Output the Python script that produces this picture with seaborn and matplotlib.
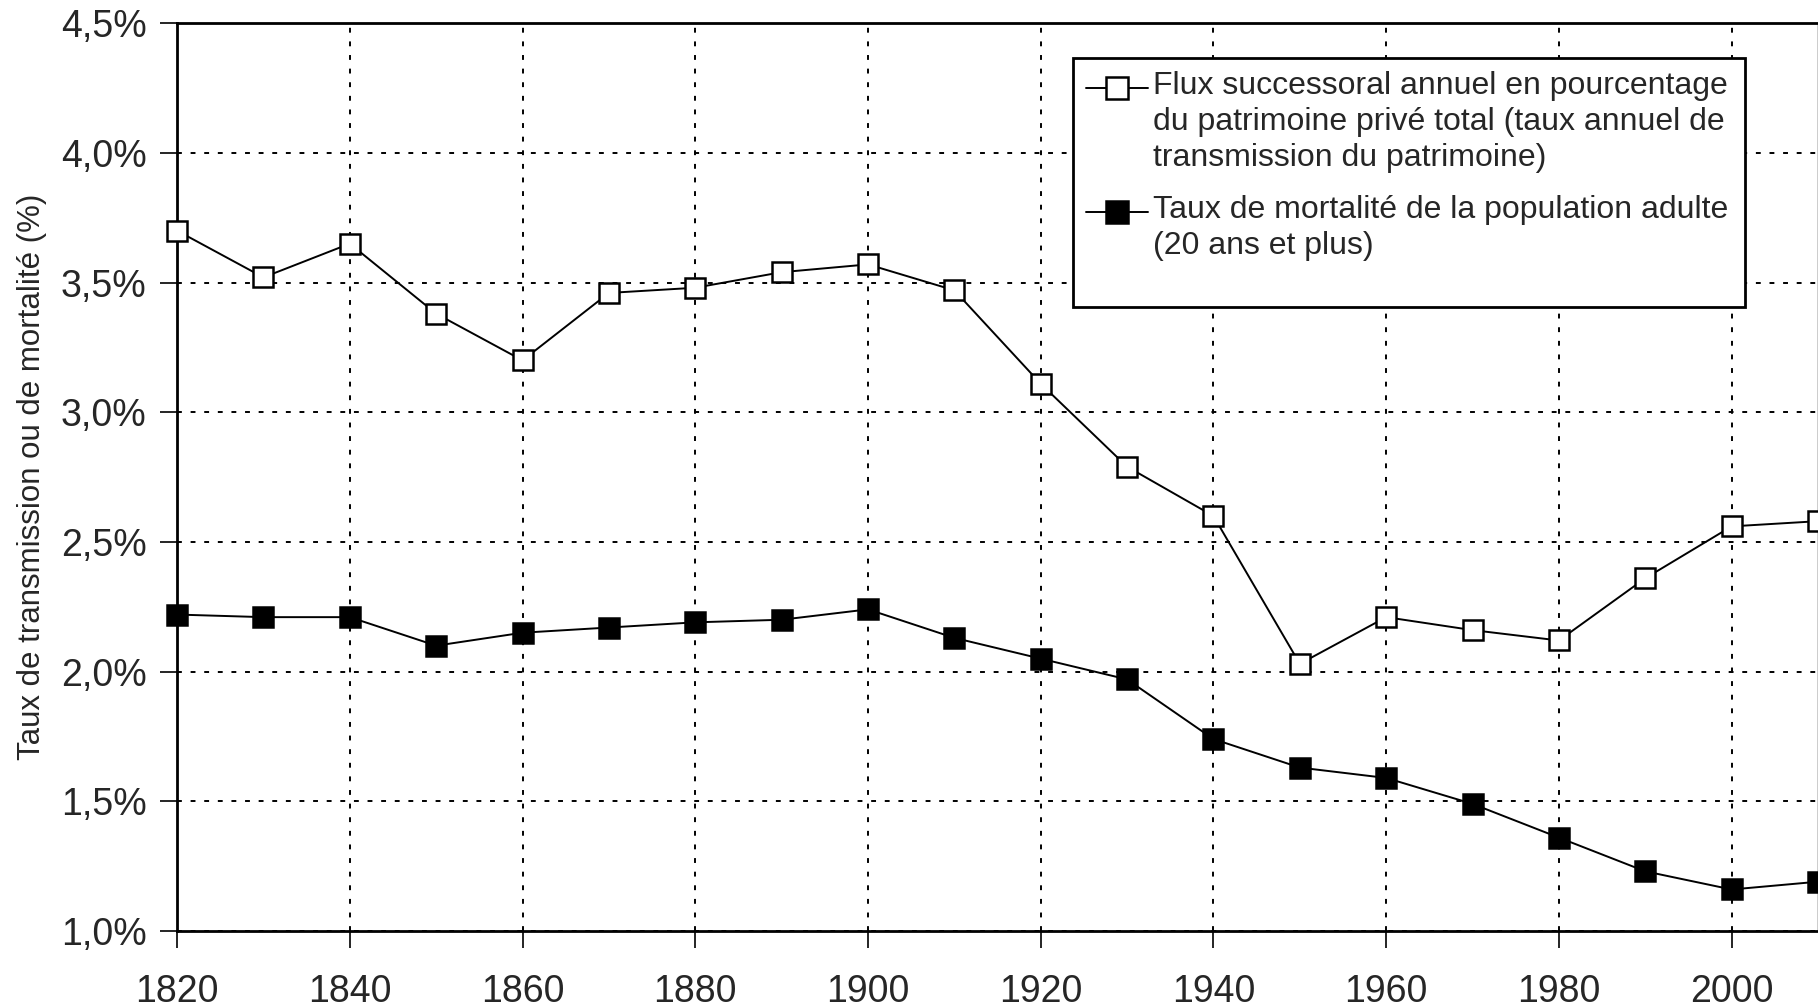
import matplotlib
matplotlib.use("Agg")
import matplotlib.pyplot as plt
import seaborn as sns
import pandas as pd
from matplotlib.lines import Line2D
from matplotlib.patches import Rectangle

# Données
annees = [1820, 1830, 1840, 1850, 1860, 1870, 1880, 1890, 1900, 1910,
          1920, 1930, 1940, 1950, 1960, 1970, 1980, 1990, 2000, 2010]
flux_successoral = [3.70, 3.52, 3.65, 3.38, 3.20, 3.46, 3.48, 3.54, 3.57, 3.47,
                    3.11, 2.79, 2.60, 2.03, 2.21, 2.16, 2.12, 2.36, 2.56, 2.58]
mortalite_adulte = [2.22, 2.21, 2.21, 2.10, 2.15, 2.17, 2.19, 2.20, 2.24, 2.13,
                    2.05, 1.97, 1.74, 1.63, 1.59, 1.49, 1.36, 1.23, 1.16, 1.19]
yticks = [1.0, 1.5, 2.0, 2.5, 3.0, 3.5, 4.0, 4.5]
ytick_labels = ["1,0%", "1,5%", "2,0%", "2,5%", "3,0%", "3,5%", "4,0%", "4,5%"]
xticks = [1820, 1840, 1860, 1880, 1900, 1920, 1940, 1960, 1980, 2000]
label_flux = ("Flux successoral annuel en pourcentage\n"
              "du patrimoine privé total (taux annuel de\n"
              "transmission du patrimoine)")
label_mort = "Taux de mortalité de la population adulte\n(20 ans et plus)"

df = pd.DataFrame({"annee": annees, "flux": flux_successoral, "mort": mortalite_adulte})

sns.set_theme(style="white")
plt.rcParams["font.family"] = ["Liberation Sans", "DejaVu Sans"]

fig = plt.figure(figsize=(18.18, 10.08), dpi=100)
ax = fig.add_axes([0.0974, 0.0764, 1 - 0.0974, 0.977 - 0.0764])

common = dict(color="black", linewidth=1.4, marker="s", markersize=15,
              markeredgewidth=1.8, markeredgecolor="black", clip_on=False, zorder=4)
sns.lineplot(data=df, x="annee", y="flux", ax=ax, markerfacecolor="white", **common)
sns.lineplot(data=df, x="annee", y="mort", ax=ax, markerfacecolor="black", **common)

ax.set_xlim(1820, 2010)
ax.set_ylim(1.0, 4.5)
ax.set_xticks(xticks)
ax.set_yticks(yticks)
ax.set_yticklabels(ytick_labels)
ax.tick_params(axis="both", labelsize=27, direction="out", length=12, width=1.2,
               color="black", left=True, bottom=True)
ax.tick_params(axis="x", pad=19)
ax.tick_params(axis="y", pad=10)

ax.grid(True, color="black", linestyle=(0, (2.5, 4.5)), linewidth=1.4)
for side in ["left", "bottom", "top", "right"]:
    ax.spines[side].set_color("black")
    ax.spines[side].set_linewidth(2)
ax.spines["right"].set_linewidth(1)

ax.set_xlabel("")
ax.set_ylabel("Taux de transmission ou de mortalité (%)", fontsize=22.5, labelpad=10)

# Légende dessinée à la main (poignées alignées sur la première ligne)
box = Rectangle((0.546, 0.687), 0.4095, 0.2745, transform=ax.transAxes,
                facecolor="white", edgecolor="black", linewidth=2, zorder=5)
ax.add_patch(box)
for y_txt, lab, face in [(0.947, label_flux, "white"), (0.8105, label_mort, "black")]:
    y_mid = y_txt - 0.0185
    ax.add_line(Line2D([0.554, 0.5914], [y_mid, y_mid], transform=ax.transAxes,
                       color="black", linewidth=1.4, zorder=6))
    ax.add_line(Line2D([0.5727], [y_mid], transform=ax.transAxes, marker="s",
                       markersize=16, markerfacecolor=face, markeredgecolor="black",
                       markeredgewidth=1.8, zorder=7))
    ax.text(0.5948, y_txt, lab, transform=ax.transAxes, fontsize=23, va="top",
            ha="left", linespacing=1.25, zorder=7)

fig.savefig("out.png", dpi=100)
